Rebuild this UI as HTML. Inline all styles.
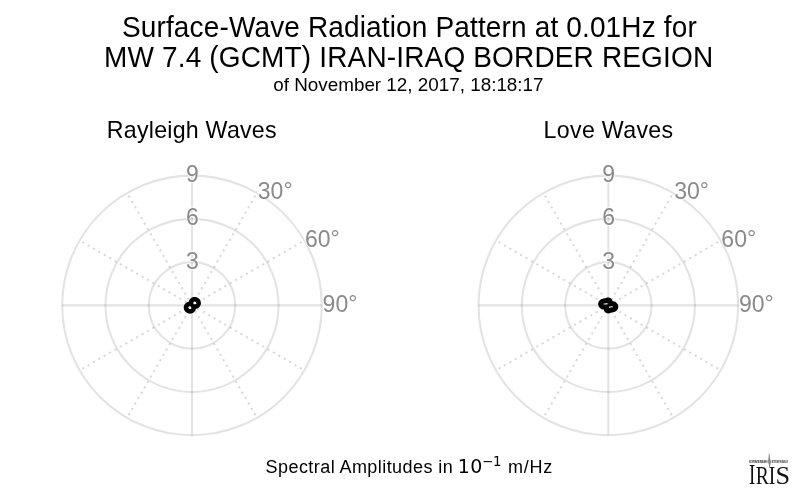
<!DOCTYPE html>
<html><head><meta charset="utf-8"><style>
html,body{margin:0;padding:0;background:#fff;overflow:hidden;}
svg{display:block;will-change:transform;}
.s{font-family:"Liberation Sans",Arial,Helvetica,sans-serif;fill:#000;}
.lab{font-family:"Liberation Sans",Arial,Helvetica,sans-serif;fill:#8a8a8a;stroke:#fff;stroke-width:1.5;paint-order:stroke;stroke-linejoin:round;}
.dj{font-family:"DejaVu Sans",sans-serif;fill:#000;}
.serif{font-family:"Liberation Serif","Times New Roman",serif;fill:#111;}
.tiny{font-family:"Liberation Sans",Arial,sans-serif;font-weight:bold;fill:#000;}
</style></head><body>
<svg width="800" height="496" viewBox="0 0 800 496">
<rect width="800" height="496" fill="#fff"/>
<text class="s" transform="translate(409.4,36.8) scale(1,1.07)" font-size="28.0" text-anchor="middle" letter-spacing="0.15">Surface-Wave Radiation Pattern at 0.01Hz for</text>
<text class="s" transform="translate(408.65,66.8) scale(1,1.04)" font-size="28.0" text-anchor="middle" letter-spacing="0.165">MW 7.4 (GCMT) IRAN-IRAQ BORDER REGION</text>
<text class="s" transform="translate(408.4,91.1) scale(1,1.0)" font-size="18.85" text-anchor="middle">of November 12, 2017, 18:18:17</text>
<text class="s" transform="translate(191.8,137.6) scale(1,1.0)" font-size="23.2" text-anchor="middle" letter-spacing="0.24">Rayleigh Waves</text>
<text class="s" transform="translate(608.5,137.6) scale(1,1.0)" font-size="23.2" text-anchor="middle" letter-spacing="0.32">Love Waves</text>
<circle cx="192.0" cy="305.4" r="43.27" fill="none" stroke="#000" stroke-opacity="0.11" stroke-width="2.1"/>
<circle cx="192.0" cy="305.4" r="86.53" fill="none" stroke="#000" stroke-opacity="0.11" stroke-width="2.1"/>
<circle cx="192.0" cy="305.4" r="129.80" fill="none" stroke="#000" stroke-opacity="0.11" stroke-width="2.1"/>
<line x1="192.0" y1="305.4" x2="192.00" y2="175.60" stroke="#000" stroke-opacity="0.11" stroke-width="2.1"/>
<line x1="192.00" y1="305.40" x2="256.90" y2="192.99" stroke="#000" stroke-opacity="0.15" stroke-width="2.0" stroke-dasharray="2.2 4.03" stroke-dashoffset="0"/>
<line x1="192.00" y1="305.40" x2="304.41" y2="240.50" stroke="#000" stroke-opacity="0.15" stroke-width="2.0" stroke-dasharray="2.2 4.03" stroke-dashoffset="0"/>
<line x1="192.0" y1="305.4" x2="321.80" y2="305.40" stroke="#000" stroke-opacity="0.11" stroke-width="2.1"/>
<line x1="192.00" y1="305.40" x2="304.41" y2="370.30" stroke="#000" stroke-opacity="0.15" stroke-width="2.0" stroke-dasharray="2.2 4.03" stroke-dashoffset="0"/>
<line x1="192.00" y1="305.40" x2="256.90" y2="417.81" stroke="#000" stroke-opacity="0.15" stroke-width="2.0" stroke-dasharray="2.2 4.03" stroke-dashoffset="0"/>
<line x1="192.0" y1="305.4" x2="192.00" y2="435.20" stroke="#000" stroke-opacity="0.11" stroke-width="2.1"/>
<line x1="192.00" y1="305.40" x2="127.10" y2="417.81" stroke="#000" stroke-opacity="0.15" stroke-width="2.0" stroke-dasharray="2.2 4.03" stroke-dashoffset="0"/>
<line x1="192.00" y1="305.40" x2="79.59" y2="370.30" stroke="#000" stroke-opacity="0.15" stroke-width="2.0" stroke-dasharray="2.2 4.03" stroke-dashoffset="0"/>
<line x1="192.0" y1="305.4" x2="62.20" y2="305.40" stroke="#000" stroke-opacity="0.11" stroke-width="2.1"/>
<line x1="192.00" y1="305.40" x2="79.59" y2="240.50" stroke="#000" stroke-opacity="0.15" stroke-width="2.0" stroke-dasharray="2.2 4.03" stroke-dashoffset="0"/>
<line x1="192.00" y1="305.40" x2="127.10" y2="192.99" stroke="#000" stroke-opacity="0.15" stroke-width="2.0" stroke-dasharray="2.2 4.03" stroke-dashoffset="0"/>
<circle cx="608.35" cy="305.4" r="43.27" fill="none" stroke="#000" stroke-opacity="0.11" stroke-width="2.1"/>
<circle cx="608.35" cy="305.4" r="86.53" fill="none" stroke="#000" stroke-opacity="0.11" stroke-width="2.1"/>
<circle cx="608.35" cy="305.4" r="129.80" fill="none" stroke="#000" stroke-opacity="0.11" stroke-width="2.1"/>
<line x1="608.35" y1="305.4" x2="608.35" y2="175.60" stroke="#000" stroke-opacity="0.11" stroke-width="2.1"/>
<line x1="608.35" y1="305.40" x2="673.25" y2="192.99" stroke="#000" stroke-opacity="0.15" stroke-width="2.0" stroke-dasharray="2.2 4.03" stroke-dashoffset="0"/>
<line x1="608.35" y1="305.40" x2="720.76" y2="240.50" stroke="#000" stroke-opacity="0.15" stroke-width="2.0" stroke-dasharray="2.2 4.03" stroke-dashoffset="0"/>
<line x1="608.35" y1="305.4" x2="738.15" y2="305.40" stroke="#000" stroke-opacity="0.11" stroke-width="2.1"/>
<line x1="608.35" y1="305.40" x2="720.76" y2="370.30" stroke="#000" stroke-opacity="0.15" stroke-width="2.0" stroke-dasharray="2.2 4.03" stroke-dashoffset="0"/>
<line x1="608.35" y1="305.40" x2="673.25" y2="417.81" stroke="#000" stroke-opacity="0.15" stroke-width="2.0" stroke-dasharray="2.2 4.03" stroke-dashoffset="0"/>
<line x1="608.35" y1="305.4" x2="608.35" y2="435.20" stroke="#000" stroke-opacity="0.11" stroke-width="2.1"/>
<line x1="608.35" y1="305.40" x2="543.45" y2="417.81" stroke="#000" stroke-opacity="0.15" stroke-width="2.0" stroke-dasharray="2.2 4.03" stroke-dashoffset="0"/>
<line x1="608.35" y1="305.40" x2="495.94" y2="370.30" stroke="#000" stroke-opacity="0.15" stroke-width="2.0" stroke-dasharray="2.2 4.03" stroke-dashoffset="0"/>
<line x1="608.35" y1="305.4" x2="478.55" y2="305.40" stroke="#000" stroke-opacity="0.11" stroke-width="2.1"/>
<line x1="608.35" y1="305.40" x2="495.94" y2="240.50" stroke="#000" stroke-opacity="0.15" stroke-width="2.0" stroke-dasharray="2.2 4.03" stroke-dashoffset="0"/>
<line x1="608.35" y1="305.40" x2="543.45" y2="192.99" stroke="#000" stroke-opacity="0.15" stroke-width="2.0" stroke-dasharray="2.2 4.03" stroke-dashoffset="0"/>
<text class="lab" transform="translate(192.4,182.0) scale(1,1.0)" font-size="23" text-anchor="middle">9</text>
<text class="lab" transform="translate(192.4,224.6) scale(1,1.0)" font-size="23" text-anchor="middle">6</text>
<text class="lab" transform="translate(192.4,269.3) scale(1,1.0)" font-size="23" text-anchor="middle">3</text>
<text class="lab" x="257.79999999999995" y="199.2" font-size="23">30<tspan dy="-1">°</tspan></text>
<text class="lab" x="305.0" y="247.0" font-size="23">60<tspan dy="-1">°</tspan></text>
<text class="lab" x="322.59999999999997" y="311.7" font-size="23">90<tspan dy="-1">°</tspan></text>
<text class="lab" transform="translate(608.75,182.0) scale(1,1.0)" font-size="23" text-anchor="middle">9</text>
<text class="lab" transform="translate(608.75,224.6) scale(1,1.0)" font-size="23" text-anchor="middle">6</text>
<text class="lab" transform="translate(608.75,269.3) scale(1,1.0)" font-size="23" text-anchor="middle">3</text>
<text class="lab" x="674.15" y="199.2" font-size="23">30<tspan dy="-1">°</tspan></text>
<text class="lab" x="721.35" y="247.0" font-size="23">60<tspan dy="-1">°</tspan></text>
<text class="lab" x="738.95" y="311.7" font-size="23">90<tspan dy="-1">°</tspan></text>
<path d="M197.77,305.30 L197.69,305.39 L197.61,305.48 L197.52,305.57 L197.43,305.65 L197.33,305.73 L197.24,305.81 L197.14,305.89 L197.04,305.96 L196.93,306.03 L196.83,306.09 L196.72,306.15 L196.61,306.21 L196.50,306.26 L196.38,306.31 L196.27,306.35 L196.15,306.39 L196.04,306.43 L195.92,306.46 L195.80,306.49 L195.68,306.52 L195.57,306.54 L195.45,306.56 L195.33,306.57 L195.22,306.58 L195.10,306.59 L194.99,306.60 L194.88,306.60 L194.77,306.60 L194.66,306.59 L194.56,306.59 L194.45,306.58 L194.36,306.57 L194.26,306.56 L194.17,306.54 L194.09,306.53 L194.00,306.52 L193.93,306.51 L193.86,306.50 L193.80,306.49 L193.74,306.48 L193.69,306.48 L193.64,306.49 L193.61,306.50 L193.58,306.51 L193.56,306.53 L193.54,306.56 L193.53,306.59 L193.52,306.63 L193.52,306.68 L193.53,306.73 L193.53,306.79 L193.54,306.86 L193.55,306.93 L193.56,307.00 L193.57,307.08 L193.59,307.17 L193.60,307.26 L193.61,307.35 L193.61,307.45 L193.62,307.54 L193.62,307.64 L193.62,307.75 L193.62,307.85 L193.62,307.96 L193.61,308.06 L193.60,308.17 L193.59,308.28 L193.57,308.39 L193.55,308.50 L193.53,308.61 L193.50,308.72 L193.47,308.82 L193.43,308.93 L193.39,309.04 L193.35,309.14 L193.31,309.25 L193.26,309.35 L193.21,309.45 L193.15,309.56 L193.09,309.65 L193.03,309.75 L192.96,309.84 L192.89,309.94 L192.82,310.03 L192.74,310.12 L192.66,310.20 L192.58,310.28 L192.50,310.36 L192.41,310.44 L192.32,310.52 L192.23,310.59 L192.13,310.65 L192.04,310.72 L191.94,310.78 L191.84,310.84 L191.73,310.90 L191.63,310.95 L191.52,311.00 L191.41,311.04 L191.30,311.08 L191.19,311.12 L191.07,311.16 L190.96,311.19 L190.84,311.22 L190.73,311.24 L190.61,311.26 L190.49,311.28 L190.37,311.29 L190.25,311.30 L190.13,311.31 L190.01,311.31 L189.89,311.31 L189.77,311.30 L189.65,311.29 L189.53,311.28 L189.41,311.26 L189.29,311.24 L189.17,311.22 L189.05,311.19 L188.94,311.16 L188.82,311.12 L188.70,311.08 L188.59,311.04 L188.47,311.00 L188.36,310.95 L188.25,310.90 L188.14,310.84 L188.03,310.78 L187.93,310.72 L187.82,310.65 L187.72,310.58 L187.62,310.51 L187.52,310.44 L187.43,310.36 L187.34,310.28 L187.25,310.20 L187.16,310.11 L187.07,310.02 L186.99,309.93 L186.91,309.83 L186.83,309.74 L186.76,309.64 L186.69,309.54 L186.62,309.43 L186.56,309.33 L186.50,309.22 L186.44,309.11 L186.39,309.00 L186.34,308.89 L186.30,308.77 L186.26,308.66 L186.22,308.54 L186.19,308.42 L186.16,308.30 L186.13,308.18 L186.11,308.06 L186.09,307.94 L186.08,307.82 L186.07,307.69 L186.07,307.57 L186.07,307.45 L186.07,307.33 L186.08,307.20 L186.09,307.08 L186.11,306.96 L186.13,306.84 L186.16,306.72 L186.19,306.60 L186.22,306.48 L186.26,306.36 L186.30,306.25 L186.35,306.13 L186.40,306.02 L186.46,305.91 L186.52,305.80 L186.58,305.70 L186.65,305.59 L186.72,305.49 L186.79,305.39 L186.87,305.30 L186.95,305.20 L187.04,305.11 L187.12,305.02 L187.21,304.94 L187.31,304.86 L187.40,304.78 L187.50,304.70 L187.61,304.63 L187.71,304.56 L187.82,304.50 L187.92,304.44 L188.03,304.38 L188.15,304.33 L188.26,304.28 L188.37,304.24 L188.49,304.20 L188.61,304.16 L188.72,304.13 L188.84,304.10 L188.96,304.07 L189.07,304.05 L189.19,304.03 L189.31,304.02 L189.42,304.01 L189.54,304.00 L189.65,303.99 L189.76,303.99 L189.87,303.99 L189.98,304.00 L190.09,304.00 L190.19,304.01 L190.29,304.02 L190.38,304.03 L190.47,304.05 L190.56,304.06 L190.64,304.07 L190.71,304.08 L190.78,304.09 L190.85,304.10 L190.90,304.11 L190.95,304.11 L191.00,304.10 L191.03,304.09 L191.06,304.08 L191.09,304.06 L191.10,304.03 L191.11,304.00 L191.12,303.96 L191.12,303.91 L191.12,303.86 L191.11,303.80 L191.10,303.73 L191.09,303.66 L191.08,303.59 L191.07,303.51 L191.06,303.42 L191.05,303.33 L191.04,303.24 L191.03,303.14 L191.02,303.05 L191.02,302.95 L191.02,302.84 L191.02,302.74 L191.02,302.63 L191.03,302.53 L191.04,302.42 L191.05,302.31 L191.07,302.20 L191.09,302.09 L191.12,301.98 L191.14,301.87 L191.17,301.77 L191.21,301.66 L191.25,301.55 L191.29,301.45 L191.34,301.34 L191.38,301.24 L191.44,301.14 L191.49,301.03 L191.55,300.94 L191.62,300.84 L191.68,300.75 L191.75,300.65 L191.82,300.56 L191.90,300.47 L191.98,300.39 L192.06,300.31 L192.14,300.23 L192.23,300.15 L192.32,300.07 L192.41,300.00 L192.51,299.94 L192.61,299.87 L192.70,299.81 L192.81,299.75 L192.91,299.69 L193.02,299.64 L193.12,299.59 L193.23,299.55 L193.34,299.51 L193.45,299.47 L193.57,299.43 L193.68,299.40 L193.80,299.37 L193.91,299.35 L194.03,299.33 L194.15,299.31 L194.27,299.30 L194.39,299.29 L194.51,299.28 L194.63,299.28 L194.75,299.28 L194.87,299.29 L194.99,299.30 L195.11,299.31 L195.23,299.33 L195.35,299.35 L195.47,299.37 L195.59,299.40 L195.71,299.43 L195.82,299.47 L195.94,299.51 L196.05,299.55 L196.17,299.59 L196.28,299.64 L196.39,299.69 L196.50,299.75 L196.61,299.81 L196.71,299.87 L196.82,299.94 L196.92,300.01 L197.02,300.08 L197.12,300.15 L197.21,300.23 L197.31,300.31 L197.40,300.39 L197.48,300.48 L197.57,300.57 L197.65,300.66 L197.73,300.76 L197.81,300.85 L197.88,300.95 L197.95,301.05 L198.02,301.16 L198.08,301.26 L198.14,301.37 L198.20,301.48 L198.25,301.59 L198.30,301.70 L198.34,301.82 L198.39,301.93 L198.42,302.05 L198.46,302.17 L198.49,302.29 L198.51,302.41 L198.53,302.53 L198.55,302.65 L198.56,302.77 L198.57,302.90 L198.57,303.02 L198.57,303.14 L198.57,303.26 L198.56,303.39 L198.55,303.51 L198.53,303.63 L198.51,303.75 L198.48,303.87 L198.45,303.99 L198.42,304.11 L198.38,304.23 L198.34,304.34 L198.29,304.46 L198.24,304.57 L198.18,304.68 L198.12,304.79 L198.06,304.89 L197.99,305.00 L197.92,305.10 L197.85,305.20Z" fill="none" stroke="#000" stroke-width="4.651" stroke-linejoin="round"/>
<path d="M615.32,305.40 L615.39,305.52 L615.46,305.65 L615.52,305.78 L615.57,305.91 L615.62,306.05 L615.65,306.18 L615.68,306.32 L615.71,306.45 L615.72,306.59 L615.73,306.72 L615.73,306.86 L615.72,306.99 L615.71,307.13 L615.68,307.26 L615.66,307.39 L615.62,307.52 L615.58,307.65 L615.53,307.77 L615.47,307.90 L615.41,308.02 L615.34,308.13 L615.27,308.25 L615.19,308.36 L615.10,308.46 L615.01,308.56 L614.91,308.66 L614.81,308.76 L614.71,308.85 L614.60,308.94 L614.49,309.02 L614.37,309.10 L614.26,309.17 L614.14,309.24 L614.01,309.30 L613.89,309.37 L613.76,309.42 L613.63,309.48 L613.50,309.52 L613.37,309.57 L613.24,309.61 L613.11,309.65 L612.98,309.68 L612.85,309.71 L612.72,309.74 L612.59,309.77 L612.46,309.79 L612.34,309.81 L612.21,309.83 L612.09,309.85 L611.97,309.87 L611.85,309.88 L611.74,309.90 L611.62,309.91 L611.51,309.93 L611.40,309.94 L611.30,309.96 L611.19,309.97 L611.09,309.99 L610.99,310.01 L610.89,310.03 L610.80,310.05 L610.71,310.07 L610.61,310.10 L610.53,310.12 L610.44,310.15 L610.35,310.18 L610.26,310.21 L610.18,310.24 L610.09,310.28 L610.01,310.31 L609.92,310.35 L609.84,310.38 L609.76,310.42 L609.67,310.46 L609.59,310.49 L609.50,310.53 L609.41,310.57 L609.33,310.60 L609.24,310.64 L609.15,310.67 L609.06,310.70 L608.97,310.73 L608.88,310.75 L608.79,310.77 L608.69,310.79 L608.60,310.81 L608.51,310.82 L608.41,310.83 L608.32,310.84 L608.22,310.84 L608.13,310.83 L608.03,310.82 L607.94,310.81 L607.84,310.79 L607.75,310.77 L607.66,310.74 L607.57,310.70 L607.48,310.66 L607.39,310.62 L607.31,310.57 L607.23,310.51 L607.15,310.45 L607.07,310.39 L606.99,310.32 L606.92,310.24 L606.86,310.16 L606.79,310.07 L606.73,309.99 L606.67,309.89 L606.62,309.79 L606.57,309.69 L606.53,309.59 L606.49,309.48 L606.46,309.36 L606.43,309.25 L606.40,309.13 L606.38,309.01 L606.36,308.89 L606.35,308.77 L606.34,308.65 L606.34,308.53 L606.34,308.40 L606.35,308.28 L606.36,308.16 L606.37,308.04 L606.38,307.93 L606.40,307.82 L606.42,307.71 L606.43,307.61 L606.45,307.51 L606.47,307.42 L606.48,307.33 L606.49,307.25 L606.50,307.18 L606.50,307.12 L606.49,307.07 L606.47,307.03 L606.45,307.00 L606.41,306.97 L606.36,306.96 L606.30,306.95 L606.23,306.95 L606.16,306.96 L606.06,306.97 L605.96,306.98 L605.85,306.99 L605.74,307.01 L605.61,307.03 L605.48,307.05 L605.34,307.06 L605.20,307.08 L605.05,307.09 L604.89,307.09 L604.74,307.10 L604.58,307.10 L604.42,307.09 L604.25,307.08 L604.09,307.07 L603.92,307.05 L603.76,307.02 L603.60,306.99 L603.43,306.95 L603.27,306.91 L603.11,306.86 L602.96,306.81 L602.80,306.75 L602.65,306.69 L602.50,306.61 L602.36,306.54 L602.22,306.46 L602.09,306.37 L601.96,306.28 L601.83,306.18 L601.71,306.08 L601.60,305.98 L601.49,305.87 L601.39,305.76 L601.30,305.64 L601.21,305.52 L601.13,305.40 L601.05,305.27 L600.98,305.15 L600.92,305.02 L600.87,304.89 L600.83,304.75 L600.79,304.62 L600.76,304.48 L600.74,304.35 L600.72,304.21 L600.71,304.08 L600.71,303.94 L600.72,303.80 L600.74,303.67 L600.76,303.54 L600.79,303.41 L600.82,303.28 L600.87,303.15 L600.91,303.03 L600.97,302.90 L601.03,302.78 L601.10,302.67 L601.18,302.55 L601.26,302.44 L601.34,302.34 L601.43,302.23 L601.53,302.13 L601.63,302.04 L601.73,301.95 L601.84,301.86 L601.95,301.78 L602.07,301.70 L602.19,301.63 L602.31,301.56 L602.43,301.49 L602.56,301.43 L602.68,301.38 L602.81,301.32 L602.94,301.27 L603.07,301.23 L603.20,301.19 L603.33,301.15 L603.46,301.12 L603.59,301.08 L603.72,301.06 L603.85,301.03 L603.98,301.01 L604.10,300.99 L604.23,300.97 L604.35,300.95 L604.47,300.93 L604.59,300.92 L604.71,300.90 L604.82,300.89 L604.93,300.87 L605.04,300.86 L605.15,300.84 L605.25,300.82 L605.35,300.81 L605.45,300.79 L605.55,300.77 L605.64,300.75 L605.74,300.72 L605.83,300.70 L605.92,300.67 L606.01,300.65 L606.09,300.62 L606.18,300.59 L606.26,300.55 L606.35,300.52 L606.43,300.49 L606.52,300.45 L606.60,300.41 L606.69,300.38 L606.77,300.34 L606.86,300.30 L606.94,300.27 L607.03,300.23 L607.12,300.20 L607.20,300.16 L607.29,300.13 L607.38,300.10 L607.47,300.07 L607.56,300.05 L607.66,300.02 L607.75,300.00 L607.84,299.99 L607.94,299.98 L608.03,299.97 L608.13,299.96 L608.22,299.96 L608.32,299.97 L608.41,299.98 L608.50,299.99 L608.60,300.01 L608.69,300.03 L608.78,300.06 L608.87,300.10 L608.96,300.13 L609.05,300.18 L609.13,300.23 L609.22,300.28 L609.30,300.35 L609.37,300.41 L609.45,300.48 L609.52,300.56 L609.59,300.64 L609.65,300.72 L609.71,300.81 L609.77,300.91 L609.82,301.01 L609.87,301.11 L609.91,301.21 L609.95,301.32 L609.99,301.43 L610.02,301.55 L610.04,301.67 L610.06,301.78 L610.08,301.90 L610.09,302.03 L610.10,302.15 L610.10,302.27 L610.10,302.39 L610.09,302.51 L610.09,302.63 L610.07,302.75 L610.06,302.87 L610.04,302.98 L610.03,303.09 L610.01,303.19 L609.99,303.29 L609.97,303.38 L609.96,303.47 L609.95,303.55 L609.94,303.61 L609.95,303.67 L609.95,303.73 L609.97,303.77 L610.00,303.80 L610.03,303.82 L610.08,303.84 L610.14,303.85 L610.21,303.85 L610.29,303.84 L610.38,303.83 L610.48,303.82 L610.59,303.80 L610.71,303.79 L610.83,303.77 L610.96,303.75 L611.10,303.74 L611.25,303.72 L611.40,303.71 L611.55,303.70 L611.71,303.70 L611.86,303.70 L612.03,303.70 L612.19,303.71 L612.35,303.73 L612.52,303.75 L612.68,303.78 L612.85,303.81 L613.01,303.84 L613.17,303.89 L613.33,303.93 L613.49,303.99 L613.64,304.05 L613.79,304.11 L613.94,304.18 L614.08,304.26 L614.22,304.34 L614.36,304.43 L614.49,304.52 L614.61,304.61 L614.73,304.71 L614.84,304.82 L614.95,304.93 L615.05,305.04 L615.15,305.16 L615.24,305.28Z" fill="none" stroke="#000" stroke-width="5.106" stroke-linejoin="round"/>
<text class="s" transform="translate(265.6,472.8) scale(1,1.0)" font-size="18.0" text-anchor="start" letter-spacing="0.43">Spectral Amplitudes in</text>
<text class="dj" transform="translate(457.7,473.0) scale(1,1.0)" font-size="19.0" text-anchor="start" letter-spacing="0.5">10</text>
<text class="dj" transform="translate(481.9,465.8) scale(1,1.0)" font-size="13.3" text-anchor="start">−1</text>
<text class="s" transform="translate(507.9,472.8) scale(1,1.0)" font-size="18.0" text-anchor="start" letter-spacing="0.8">m/Hz</text>
<g class="serif"><text transform="translate(748.95,484.2) scale(0.635,1)" font-size="29.7">I</text><text transform="translate(755.8,484.2) scale(0.78,1)" font-size="25.2">R</text><text transform="translate(768.8,484.2) scale(0.78,1)" font-size="25.2">I</text><text transform="translate(775.5,484.2) scale(1.04,1)" font-size="25.2">S</text></g><text class="tiny" x="749.2" y="463.1" font-size="3.1" textLength="18.3" lengthAdjust="spacingAndGlyphs">INCORPORATED RESEARCH</text><text class="tiny" x="771.6" y="463.1" font-size="3.1" textLength="16.4" lengthAdjust="spacingAndGlyphs">INSTITUTIONS FOR SEISMOLOGY</text><path d="M767.6,462 L768.4,458.5 L769.2,453.6 L769.9,458 L771.2,461.5 L770.4,465 L769.7,467.6 L768.9,464.5 Z" fill="#9a9a9a"/><path d="M769.2,453.6 L769.4,462 L769.6,467" stroke="#777" stroke-width="0.6" fill="none"/>
</svg>
</body></html>
